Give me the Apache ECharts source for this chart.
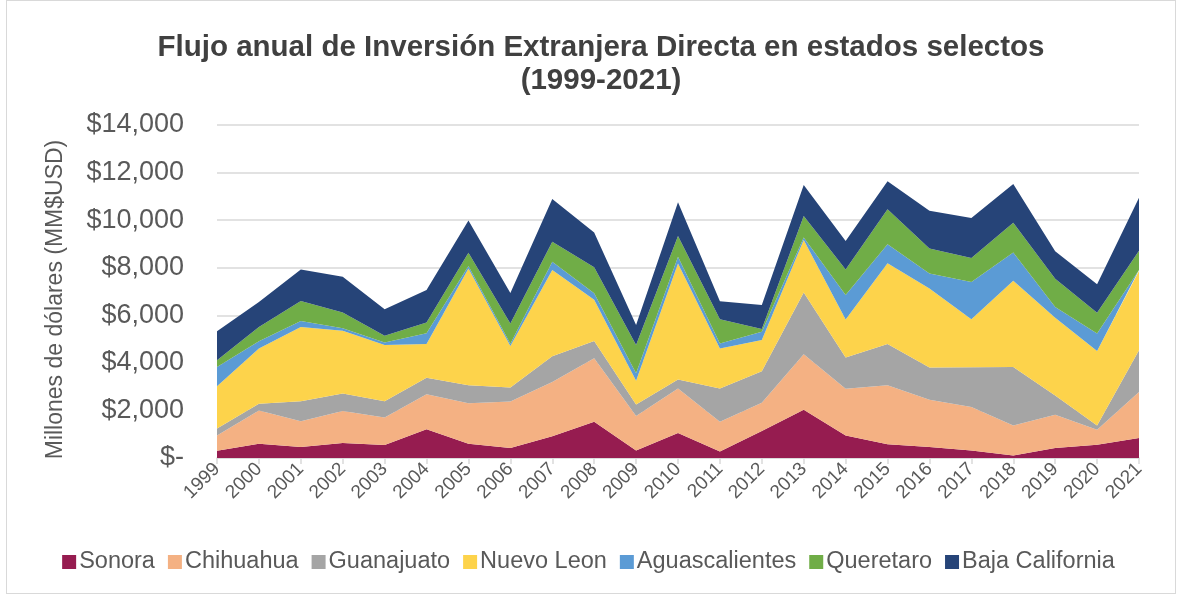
<!DOCTYPE html>
<html>
<head>
<meta charset="utf-8">
<script src="https://cdn.jsdelivr.net/npm/echarts@6/dist/echarts.min.js"></script>
<style>
  html, body { margin: 0; padding: 0; background: #fff; }
  #frame { position: absolute; left: 6px; top: 0; width: 1170px; height: 594px; border: 1px solid #d9d9d9; box-sizing: border-box; }
  #chart { width: 1177px; height: 596px; }
</style>
</head>
<body>
<div id="frame"></div>
<div id="chart"></div>
<script>
// annual FDI flows, millions of USD
const years = ['1999', '2000', '2001', '2002', '2003', '2004', '2005', '2006', '2007', '2008', '2009',
  '2010', '2011', '2012', '2013', '2014', '2015', '2016', '2017', '2018', '2019', '2020', '2021'];

const sonora = [300, 600, 460, 630, 550, 1210, 600, 420, 910, 1520, 320, 1050, 270, 1140, 2030, 950, 580, 460, 320, 110, 420, 560, 840];
const chihuahua = [650, 1400, 1090, 1350, 1150, 1470, 1700, 1960, 2290, 2670, 1450, 1870, 1250, 1180, 2330, 1960, 2480, 1990, 1820, 1260, 1400, 630, 1940];
const guanajuato = [290, 280, 840, 730, 690, 690, 760, 580, 1080, 730, 480, 380, 1400, 1330, 2600, 1310, 1730, 1350, 1680, 2460, 810, 180, 1750];
const nuevoLeon = [1780, 2320, 3120, 2640, 2360, 1420, 4910, 1750, 3620, 1730, 1000, 4880, 1680, 1310, 2200, 1600, 3400, 3330, 2010, 3620, 3270, 3130, 3330];
const aguascalientes = [810, 310, 250, 100, 110, 450, 100, 90, 350, 280, 310, 280, 210, 350, 110, 1030, 800, 630, 1570, 1190, 450, 730, 40];
const queretaro = [280, 600, 840, 670, 280, 460, 560, 850, 840, 1090, 1190, 870, 1020, 110, 900, 1080, 1470, 1050, 1010, 1250, 1190, 880, 810];
const bajaCalifornia = [1220, 1050, 1330, 1500, 1110, 1360, 1350, 1290, 1800, 1460, 840, 1420, 760, 1010, 1310, 1190, 1170, 1590, 1680, 1630, 1150, 1190, 2230];

const states = [
  ['Sonora', sonora, '#961C50'],
  ['Chihuahua', chihuahua, '#F4B183'],
  ['Guanajuato', guanajuato, '#A5A5A5'],
  ['Nuevo Leon', nuevoLeon, '#FDD34B'],
  ['Aguascalientes', aguascalientes, '#5B9BD5'],
  ['Queretaro', queretaro, '#70AD47'],
  ['Baja California', bajaCalifornia, '#264478']
];

const txt = '#595959';
const chart = echarts.init(document.getElementById('chart'), null, { renderer: 'canvas' });

chart.setOption({
  animation: false,
  textStyle: { fontFamily: 'Liberation Sans' },
  title: {
    text: 'Flujo anual de Inversión Extranjera Directa en estados selectos\n(1999-2021)',
    left: 596, top: 26, textAlign: 'center',
    textStyle: { fontSize: 29.5, fontWeight: 'bold', color: '#404040', lineHeight: 33, fontFamily: 'Liberation Sans' }
  },
  legend: {
    bottom: 17, left: 'center',
    icon: 'rect', itemWidth: 14, itemHeight: 14, itemGap: 13,
    textStyle: { fontSize: 23.5, color: txt, padding: [0, 0, 0, -2] },
    data: states.map(s => s[0])
  },
  grid: { left: 217, right: 38, top: 125, bottom: 138 },
  xAxis: {
    type: 'category', data: years, boundaryGap: false,
    axisLine: { lineStyle: { color: '#d9d9d9', width: 1.5 } },
    axisTick: { alignWithLabel: true, length: 6, lineStyle: { color: '#d9d9d9', width: 1.5 } },
    axisLabel: { rotate: 45, fontSize: 19, color: txt, margin: 8, interval: 0 }
  },
  yAxis: {
    type: 'value', min: 0, max: 14000, interval: 2000,
    name: 'Millones de dólares (MM$USD)', nameLocation: 'middle', nameGap: 150,
    nameTextStyle: { fontSize: 23, color: txt, padding: [0, 16, 0, 0] },
    axisLabel: {
      fontSize: 27, color: txt, margin: 33,
      formatter: v => v === 0 ? '$-' : '$' + v.toLocaleString('en-US')
    },
    splitLine: { lineStyle: { color: '#d9d9d9', width: 1.5 } }
  },
  series: states.map(([name, values, color]) => ({
    name, type: 'line', stack: 'total', data: values,
    symbol: 'none', color,
    lineStyle: { width: 0 },
    areaStyle: { color, opacity: 1 }
  }))
});
</script>
</body>
</html>
